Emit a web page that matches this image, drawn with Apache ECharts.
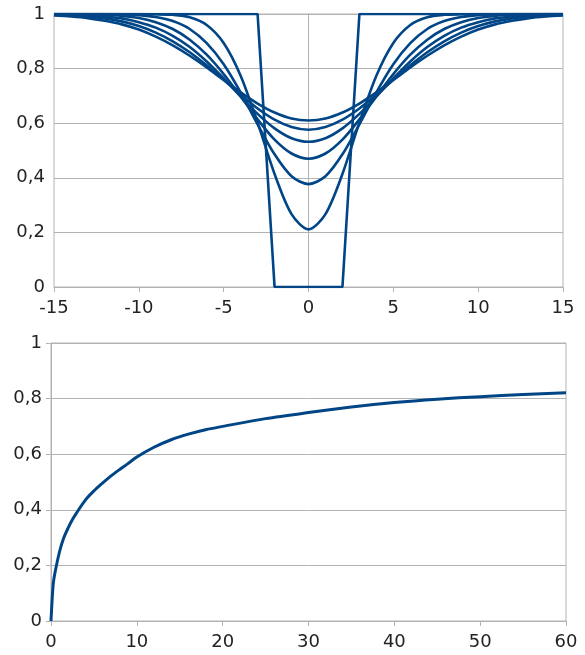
<!DOCTYPE html>
<html>
<head>
<meta charset="utf-8">
<script src="https://cdn.jsdelivr.net/npm/echarts@6/dist/echarts.min.js"></script>
<style>
html,body{margin:0;padding:0;background:#fff;}
#chart{width:585px;height:655px;}
</style>
</head>
<body>
<div id="chart"></div>
<script>
// Top panel: x positions and curve values
var xTop = [-15,-14,-13,-12,-11,-10,-9,-8,-7,-6,-5,-4,-3,-2,-1,0,1,2,3,4,5,6,7,8,9,10,11,12,13,14,15];
var rect = [1,1,1,1,1,1,1,1,1,1,1,1,1,0,0,0,0,0,1,1,1,1,1,1,1,1,1,1,1,1,1];
var c1 = [1,1,1,1,1,1,0.999,0.997,0.988,0.960,0.894,0.774,0.602,0.414,0.267,0.211,0.267,0.414,0.602,0.774,0.894,0.960,0.988,0.997,0.999,1,1,1,1,1,1];
var c2 = [1,1,1,1,0.999,0.996,0.989,0.974,0.945,0.893,0.816,0.713,0.596,0.486,0.406,0.377,0.406,0.486,0.596,0.713,0.816,0.893,0.945,0.974,0.989,0.996,0.999,1,1,1,1];
var c3 = [1,1,0.999,0.997,0.993,0.985,0.970,0.945,0.906,0.851,0.780,0.698,0.614,0.540,0.489,0.470,0.489,0.540,0.614,0.698,0.780,0.851,0.906,0.945,0.970,0.985,0.993,0.997,0.999,1,1];
var c4 = [0.999,0.998,0.996,0.991,0.984,0.970,0.950,0.920,0.879,0.826,0.764,0.698,0.634,0.581,0.545,0.532,0.545,0.581,0.634,0.698,0.764,0.826,0.879,0.920,0.950,0.970,0.984,0.991,0.996,0.998,0.999];
var c5 = [0.997,0.995,0.991,0.984,0.973,0.956,0.932,0.900,0.860,0.812,0.759,0.704,0.654,0.613,0.586,0.576,0.586,0.613,0.654,0.704,0.759,0.812,0.860,0.900,0.932,0.956,0.973,0.984,0.991,0.995,0.997];
var c6 = [0.995,0.991,0.985,0.975,0.962,0.943,0.917,0.885,0.847,0.804,0.758,0.713,0.672,0.639,0.617,0.610,0.617,0.639,0.672,0.713,0.758,0.804,0.847,0.885,0.917,0.943,0.962,0.975,0.985,0.991,0.995];

// Bottom panel
var xBottom = [0,0.25,0.5,1,1.5,2,2.5,3,4,5,6,7,8,9,10,12,14,16,18,20,25,30,35,40,45,50,55,60];
var yBottom = [0,0.13,0.18,0.25,0.30,0.335,0.365,0.39,0.435,0.468,0.496,0.522,0.545,0.567,0.59,0.625,0.652,0.672,0.688,0.70,0.728,0.75,0.77,0.786,0.798,0.807,0.815,0.821];

var topSeries = [rect, c1, c2, c3, c4, c5, c6];
var COLOR = '#004586';
var GRID = '#b3b3b3';
var FONT = 'DejaVu Sans';

function pairs(xs, ys){ return xs.map(function(x,i){ return [x, ys[i]]; }); }
function fmt(v){ return String(v).replace('.', ','); }

var labelStyle = {color:'#222', fontFamily: FONT, fontSize: 18};

function xAxisCfg(gi, min, max, interval){
  return {
    type:'value', gridIndex: gi, min: min, max: max, interval: interval,
    axisLine:{show:true, onZero:false, lineStyle:{color:GRID, width:1}},
    axisTick:{show:true, length:5, lineStyle:{color:GRID}},
    splitLine:{show:false},
    axisLabel: Object.assign({margin:12, formatter: fmt}, labelStyle)
  };
}
function yAxisCfg(gi){
  return {
    type:'value', gridIndex: gi, min: 0, max: 1, interval: 0.2,
    axisLine:{show:true, lineStyle:{color:GRID, width:1}},
    axisTick:{show:true, length:5, lineStyle:{color:GRID}},
    splitLine:{show:true, lineStyle:{color:GRID, width:1}},
    axisLabel: Object.assign({margin:9, formatter: fmt}, labelStyle)
  };
}

var series = topSeries.map(function(ys, i){
  return {
    type:'line', xAxisIndex:0, yAxisIndex:0, data: pairs(xTop, ys),
    showSymbol:false, symbol:'none', smooth: i === 0 ? false : 0.3,
    lineStyle:{color:COLOR, width:2.6}, itemStyle:{color:COLOR}
  };
});
series.push({
  type:'line', xAxisIndex:1, yAxisIndex:1, data: pairs(xBottom, yBottom),
  showSymbol:false, symbol:'none', smooth:0.3,
  lineStyle:{color:COLOR, width:3}, itemStyle:{color:COLOR}
});

var chart = echarts.init(document.getElementById('chart'), null, {renderer:'canvas'});
chart.setOption({
  animation:false,
  backgroundColor:'#fff',
  grid:[
    {left:54, top:14, width:509, height:273, show:true, borderColor:GRID, borderWidth:1},
    {left:51, top:343, width:515, height:278, show:true, borderColor:GRID, borderWidth:1}
  ],
  xAxis:[ xAxisCfg(0, -15, 15, 5), xAxisCfg(1, 0, 60, 10) ],
  yAxis:[ yAxisCfg(0), yAxisCfg(1) ],
  series: series
});
</script>
</body>
</html>
